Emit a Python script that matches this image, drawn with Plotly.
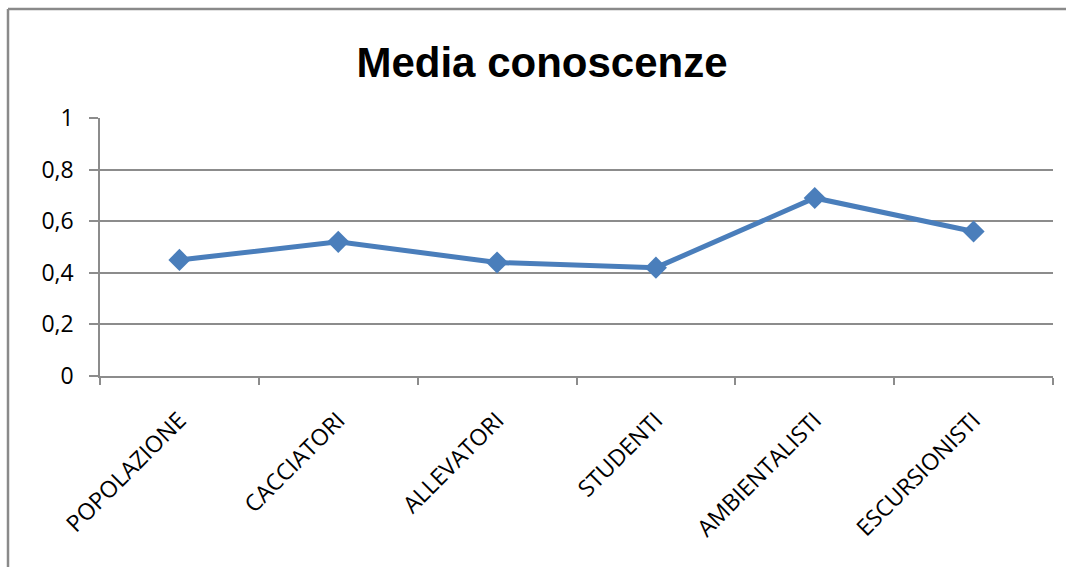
import plotly.graph_objects as go

categories = ["POPOLAZIONE", "CACCIATORI", "ALLEVATORI", "STUDENTI", "AMBIENTALISTI", "ESCURSIONISTI"]
values = [0.45, 0.52, 0.44, 0.42, 0.69, 0.56]
y_ticks = [0, 0.2, 0.4, 0.6, 0.8, 1]

W, H = 1066, 567
L, R, T, B = 100, 13, 118, 191
pw, ph = W - L - R, H - T - B

def px_to_paper_x(px):
    return (px - L) / pw

def px_to_paper_y(py):
    return (H - B - py) / ph

grid = "#8c8c8c"
fig = go.Figure()
fig.add_trace(go.Scatter(
    x=categories, y=values, mode="lines+markers",
    line=dict(color="#4A7EBB", width=5),
    marker=dict(symbol="diamond", size=17, color="#4A7EBB"),
    showlegend=False,
))

fig.update_layout(
    width=W, height=H,
    margin=dict(l=L, r=R, t=T, b=B),
    paper_bgcolor="white", plot_bgcolor="white",
    separators=", ",
    title=dict(text="<b>Media conoscenze</b>",
               font=dict(family="Liberation Sans Narrow, Arial Narrow, Liberation Sans", size=42, color="black"),
               x=542 / W, xanchor="center", xref="container",
               y=1 - 77 / H, yanchor="bottom", yref="container"),
    font=dict(family="Open Sans", color="black"),
    xaxis=dict(
        type="category", tickson="boundaries", ticks="outside", ticklen=7,
        tickcolor=grid, tickwidth=1.5, showgrid=False,
        showline=True, linecolor=grid, linewidth=1.5,
        tickangle=-45, tickfont=dict(size=23, family="Open Sans"),
        ticklabelstandoff=20, range=[-0.5, 5.5],
    ),
    yaxis=dict(
        range=[0, 1], tickvals=y_ticks, ticks="outside", ticklen=9,
        tickcolor=grid, tickwidth=1.5, showgrid=True, gridcolor=grid, gridwidth=1.5,
        showline=True, linecolor=grid, linewidth=1.5, zeroline=False,
        tickfont=dict(size=23, family="Open Sans"), ticklabelstandoff=11,
    ),
    shapes=[
        dict(type="line", xref="paper", yref="paper",
             x0=px_to_paper_x(8), x1=px_to_paper_x(1066), y0=px_to_paper_y(9), y1=px_to_paper_y(9),
             line=dict(color="#8a8a8a", width=2.5)),
        dict(type="line", xref="paper", yref="paper",
             x0=px_to_paper_x(8), x1=px_to_paper_x(8), y0=px_to_paper_y(9), y1=px_to_paper_y(567),
             line=dict(color="#8a8a8a", width=2.5)),
    ],
)

fig.write_html("out.html")
